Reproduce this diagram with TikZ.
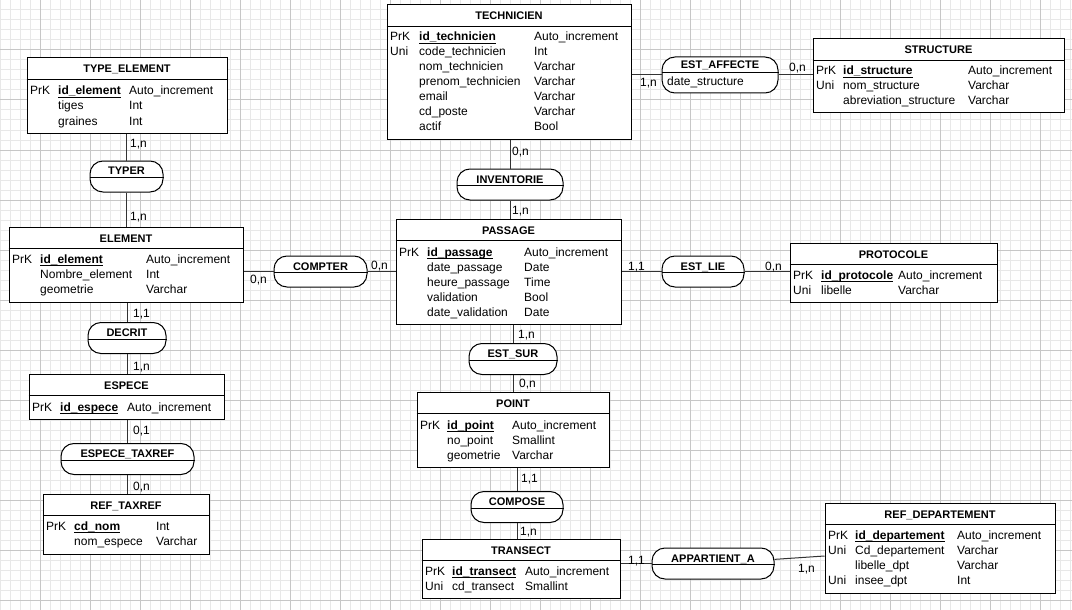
\documentclass[tikz,border=0pt]{standalone}
\usepackage{fontspec}
\setmainfont{Liberation Sans}

\begin{document}
\begin{tikzpicture}[x=1pt, y=-1pt,
    entity/.style={draw, fill=white, line width=1pt, inner sep=0pt},
    rel/.style={draw, fill=white, line width=1pt, rounded corners=13pt, minimum height=31pt, inner sep=0pt},
    ttl/.style={font=\fontsize{11}{13}\selectfont\bfseries, inner sep=0pt, text height=9pt, text depth=1pt},
    att/.style={font=\fontsize{12}{15}\selectfont, anchor=west, inner sep=0pt, text height=9pt, text depth=1pt},
    key/.style={att, font=\fontsize{12}{15}\selectfont\bfseries},
    uline/.style={line width=1pt},
    sep/.style={line width=1pt},
    link/.style={draw=black!80, line width=1pt},
    minor/.style={draw=black!9, line width=1pt},
    major/.style={draw=black!22, line width=1pt}]

  % Background grid
  \fill[white] (0,0) rectangle (1072,610);
  \useasboundingbox (0,0) rectangle (1072,610);
  \foreach \x in {0,10,...,1070} \draw[minor] (\x,0) -- (\x,610);
  \foreach \y in {0,10,...,610} \draw[minor] (0,\y) -- (1072,\y);
  \foreach \x in {40,90,...,1040} \draw[major] (\x,0) -- (\x,610);
  \foreach \y in {0,50,...,600} \draw[major] (0,\y) -- (1072,\y);

  % TECHNICIEN
  \node[entity, minimum width=244pt, minimum height=134pt] (technicien) at (509,72) {};
  \draw[sep] ([yshift=-22pt]technicien.north west) -- ([yshift=-22pt]technicien.north east);
  \node[ttl] (technicien-t) at (509,16) {TECHNICIEN};
  \node[att] (tec-k) at (390,37) {PrK};
  \node[key] (tec-id) at (419,37) {id\_technicien};
  \node[att] (tec-ty) at (534,37) {Auto\_increment};
  \draw[uline] ([yshift=-1.5pt]tec-id.south west) -- ([yshift=-1.5pt]tec-id.south east);
  \foreach \k/\n/\t [count=\i] in {Uni/code\_technicien/Int, /nom\_technicien/Varchar,
      /prenom\_technicien/Varchar, /email/Varchar, /cd\_poste/Varchar, /actif/Bool} {
    \node[att] (tec-k\i) at (390,{37+15*\i}) {\k};
    \node[att] (tec-n\i) at (419,{37+15*\i}) {\n};
    \node[att] (tec-t\i) at (534,{37+15*\i}) {\t};
  }

  % STRUCTURE
  \node[entity, minimum width=251pt, minimum height=74pt] (structure) at (938.5,76) {};
  \draw[sep] ([yshift=-22pt]structure.north west) -- ([yshift=-22pt]structure.north east);
  \node[ttl] (structure-t) at (938.5,50) {STRUCTURE};
  \node[att] (str-k) at (816,71) {PrK};
  \node[key] (str-id) at (843,71) {id\_structure};
  \node[att] (str-ty) at (968,71) {Auto\_increment};
  \draw[uline] ([yshift=-1.5pt]str-id.south west) -- ([yshift=-1.5pt]str-id.south east);
  \foreach \k/\n/\t [count=\i] in {Uni/nom\_structure/Varchar, /abreviation\_structure/Varchar} {
    \node[att] (str-k\i) at (816,{71+15*\i}) {\k};
    \node[att] (str-n\i) at (843,{71+15*\i}) {\n};
    \node[att] (str-t\i) at (968,{71+15*\i}) {\t};
  }

  % TYPE_ELEMENT
  \node[entity, minimum width=200pt, minimum height=75pt] (typeelement) at (127,95.5) {};
  \draw[sep] ([yshift=-22pt]typeelement.north west) -- ([yshift=-22pt]typeelement.north east);
  \node[ttl] (typeelement-t) at (127,69) {TYPE\_ELEMENT};
  \node[att] (typ-k) at (30,91) {PrK};
  \node[key] (typ-id) at (58,91) {id\_element};
  \node[att] (typ-ty) at (129,91) {Auto\_increment};
  \draw[uline] ([yshift=-1.5pt]typ-id.south west) -- ([yshift=-1.5pt]typ-id.south east);
  \foreach \n/\t [count=\i] in {tiges/Int, graines/Int} {
    \node[att] (typ-n\i) at (58,{91+15*\i}) {\n};
    \node[att] (typ-t\i) at (129,{91+15*\i}) {\t};
  }

  % ELEMENT
  \node[entity, minimum width=234pt, minimum height=75pt] (element) at (126,264.5) {};
  \draw[sep] ([yshift=-22pt]element.north west) -- ([yshift=-22pt]element.north east);
  \node[ttl] (element-t) at (126,238) {ELEMENT};
  \node[att] (ele-k) at (12,259) {PrK};
  \node[key] (ele-id) at (40,259) {id\_element};
  \node[att] (ele-ty) at (146,259) {Auto\_increment};
  \draw[uline] ([yshift=-1.5pt]ele-id.south west) -- ([yshift=-1.5pt]ele-id.south east);
  \foreach \n/\t [count=\i] in {Nombre\_element/Int, geometrie/Varchar} {
    \node[att] (ele-n\i) at (40,{259+15*\i}) {\n};
    \node[att] (ele-t\i) at (146,{259+15*\i}) {\t};
  }

  % PASSAGE
  \node[entity, minimum width=225pt, minimum height=105pt] (passage) at (508.5,271.5) {};
  \draw[sep] ([yshift=-22pt]passage.north west) -- ([yshift=-22pt]passage.north east);
  \node[ttl] (passage-t) at (508.5,230) {PASSAGE};
  \node[att] (pas-k) at (399,252) {PrK};
  \node[key] (pas-id) at (427,252) {id\_passage};
  \node[att] (pas-ty) at (524,252) {Auto\_increment};
  \draw[uline] ([yshift=-1.5pt]pas-id.south west) -- ([yshift=-1.5pt]pas-id.south east);
  \foreach \n/\t [count=\i] in {date\_passage/Date, heure\_passage/Time, validation/Bool,
      date\_validation/Date} {
    \node[att] (pas-n\i) at (427,{252+15*\i}) {\n};
    \node[att] (pas-t\i) at (524,{252+15*\i}) {\t};
  }

  % PROTOCOLE
  \node[entity, minimum width=207pt, minimum height=59pt] (protocole) at (893.5,272.5) {};
  \draw[sep] ([yshift=-22pt]protocole.north west) -- ([yshift=-22pt]protocole.north east);
  \node[ttl] (protocole-t) at (893.5,254) {PROTOCOLE};
  \node[att] (pro-k) at (793,275) {PrK};
  \node[key] (pro-id) at (821,275) {id\_protocole};
  \node[att] (pro-ty) at (898,275) {Auto\_increment};
  \draw[uline] ([yshift=-1.5pt]pro-id.south west) -- ([yshift=-1.5pt]pro-id.south east);
  \node[att] (pro-k1) at (793,290) {Uni};
  \node[att] (pro-n1) at (821,290) {libelle};
  \node[att] (pro-t1) at (898,290) {Varchar};

  % ESPECE
  \node[entity, minimum width=195pt, minimum height=45pt] (espece) at (126.5,396.5) {};
  \draw[sep] ([yshift=-22pt]espece.north west) -- ([yshift=-22pt]espece.north east);
  \node[ttl] (espece-t) at (126.5,385) {ESPECE};
  \node[att] (esp-k) at (32,407) {PrK};
  \node[key] (esp-id) at (60,407) {id\_espece};
  \node[att] (esp-ty) at (127,407) {Auto\_increment};
  \draw[uline] ([yshift=-1.5pt]esp-id.south west) -- ([yshift=-1.5pt]esp-id.south east);

  % REF_TAXREF
  \node[entity, minimum width=166pt, minimum height=60pt] (reftaxref) at (126,524) {};
  \draw[sep] ([yshift=-22pt]reftaxref.north west) -- ([yshift=-22pt]reftaxref.north east);
  \node[ttl] (reftaxref-t) at (126,505) {REF\_TAXREF};
  \node[att] (ref-k) at (46,526) {PrK};
  \node[key] (ref-id) at (74,526) {cd\_nom};
  \node[att] (ref-ty) at (156,526) {Int};
  \draw[uline] ([yshift=-1.5pt]ref-id.south west) -- ([yshift=-1.5pt]ref-id.south east);
  \node[att] (ref-n1) at (74,541) {nom\_espece};
  \node[att] (ref-t1) at (156,541) {Varchar};

  % POINT
  \node[entity, minimum width=192pt, minimum height=75pt] (point) at (513,429.5) {};
  \draw[sep] ([yshift=-22pt]point.north west) -- ([yshift=-22pt]point.north east);
  \node[ttl] (point-t) at (513,403) {POINT};
  \node[att] (poi-k) at (420,425) {PrK};
  \node[key] (poi-id) at (447,425) {id\_point};
  \node[att] (poi-ty) at (512,425) {Auto\_increment};
  \draw[uline] ([yshift=-1.5pt]poi-id.south west) -- ([yshift=-1.5pt]poi-id.south east);
  \foreach \n/\t [count=\i] in {no\_point/Smallint, geometrie/Varchar} {
    \node[att] (poi-n\i) at (447,{425+15*\i}) {\n};
    \node[att] (poi-t\i) at (512,{425+15*\i}) {\t};
  }

  % TRANSECT
  \node[entity, minimum width=198pt, minimum height=59pt] (transect) at (521,568.5) {};
  \draw[sep] ([yshift=-22pt]transect.north west) -- ([yshift=-22pt]transect.north east);
  \node[ttl] (transect-t) at (521,550) {TRANSECT};
  \node[att] (tra-k) at (425,571) {PrK};
  \node[key] (tra-id) at (452,571) {id\_transect};
  \node[att] (tra-ty) at (525,571) {Auto\_increment};
  \draw[uline] ([yshift=-1.5pt]tra-id.south west) -- ([yshift=-1.5pt]tra-id.south east);
  \node[att] (tra-k1) at (425,586) {Uni};
  \node[att] (tra-n1) at (452,586) {cd\_transect};
  \node[att] (tra-t1) at (525,586) {Smallint};

  % REF_DEPARTEMENT
  \node[entity, minimum width=230pt, minimum height=90pt] (refdep) at (940,548) {};
  \draw[sep] ([yshift=-22pt]refdep.north west) -- ([yshift=-22pt]refdep.north east);
  \node[ttl] (refdep-t) at (940,514) {REF\_DEPARTEMENT};
  \node[att] (dep-k) at (828,535) {PrK};
  \node[key] (dep-id) at (855,535) {id\_departement};
  \node[att] (dep-ty) at (957,535) {Auto\_increment};
  \draw[uline] ([yshift=-1.5pt]dep-id.south west) -- ([yshift=-1.5pt]dep-id.south east);
  \foreach \k/\n/\t [count=\i] in {Uni/Cd\_departement/Varchar, /libelle\_dpt/Varchar,
      Uni/insee\_dpt/Int} {
    \node[att] (dep-k\i) at (828,{535+15*\i}) {\k};
    \node[att] (dep-n\i) at (855,{535+15*\i}) {\n};
    \node[att] (dep-t\i) at (957,{535+15*\i}) {\t};
  }

  % Associations
  \node[rel, minimum width=116pt, minimum height=36pt] (estaffecte) at (720,75) {};
  \node[rel, minimum width=73pt] (typer) at (126.5,176.5) {};
  \node[rel, minimum width=106pt] (inventorie) at (510,184.5) {};
  \node[rel, minimum width=93pt] (compter) at (320.5,271.5) {};
  \node[rel, minimum width=82pt] (estlie) at (703,271.5) {};
  \node[rel, minimum width=78pt] (decrit) at (127,338) {};
  \node[rel, minimum width=88pt] (estsur) at (513,359) {};
  \node[rel, minimum width=133pt] (especetaxref) at (127.5,459) {};
  \node[rel, minimum width=92pt] (compose) at (517,507) {};
  \node[rel, minimum width=122pt] (appartient) at (713,563.5) {};

  \draw[sep] ([yshift=2pt]estaffecte.west) -- ([yshift=2pt]estaffecte.east);
  \node[ttl] (estaffecte-t) at ([yshift=10pt]estaffecte.center) {EST\_AFFECTE};
  \node[att] (estaffecte-a) at (667,82) {date\_structure};

  \foreach \r/\txt in {typer/TYPER, inventorie/INVENTORIE, compter/COMPTER, estlie/EST\_LIE,
      decrit/DECRIT, estsur/EST\_SUR, especetaxref/ESPECE\_TAXREF, compose/COMPOSE,
      appartient/APPARTIENT\_A} {
    \draw[sep] ([yshift=-1pt]\r.west) -- ([yshift=-1pt]\r.east);
    \node[ttl] (\r-t) at ([yshift=5.5pt]\r.center) {\txt};
  }

  % Links
  \draw[link] (technicien.east |- estaffecte) -- (estaffecte);
  \draw[link] (estaffecte) -- (estaffecte -| structure.west);
  \draw[link] (typer) -- (typer |- typeelement.south);
  \draw[link] (typer) -- (typer |- element.north);
  \draw[link] (inventorie) -- (inventorie |- technicien.south);
  \draw[link] (inventorie) -- (inventorie |- passage.north);
  \draw[link] (compter) -- (compter -| element.east);
  \draw[link] (compter) -- (compter -| passage.west);
  \draw[link] (estlie) -- (estlie -| passage.east);
  \draw[link] (estlie) -- (estlie -| protocole.west);
  \draw[link] (decrit) -- (decrit |- element.south);
  \draw[link] (decrit) -- (decrit |- espece.north);
  \draw[link] (especetaxref) -- (especetaxref |- espece.south);
  \draw[link] (especetaxref) -- (especetaxref |- reftaxref.north);
  \draw[link] (estsur) -- (estsur |- passage.south);
  \draw[link] (estsur) -- (estsur |- point.north);
  \draw[link] (compose) -- (compose |- point.south);
  \draw[link] (compose) -- (compose |- transect.north);
  \draw[link] (appartient) -- (appartient -| transect.east);
  \coordinate (d) at ([yshift=-8pt]refdep.west);
  \draw[link] (appartient) -- (d);

  % Cardinalities
  \node[att] (c1) at (640,83) {1,n};
  \node[att] (c2) at (789,68) {0,n};
  \node[att] (c3) at (130,143) {1,n};
  \node[att] (c4) at (130,216) {1,n};
  \node[att] (c5) at (512,151) {0,n};
  \node[att] (c6) at (512,210) {1,n};
  \node[att] (c7) at (250,279) {0,n};
  \node[att] (c8) at (371,265) {0,n};
  \node[att] (c9) at (628,266) {1,1};
  \node[att] (c10) at (765,266) {0,n};
  \node[att] (c11) at (133,313) {1,1};
  \node[att] (c12) at (133,366) {1,n};
  \node[att] (c13) at (133,430) {0,1};
  \node[att] (c14) at (133,486) {0,n};
  \node[att] (c15) at (518,334) {1,n};
  \node[att] (c16) at (519,383) {0,n};
  \node[att] (c17) at (521,478) {1,1};
  \node[att] (c18) at (520,531) {1,n};
  \node[att] (c19) at (628,560) {1,1};
  \node[att] (c20) at (798,568) {1,n};
\end{tikzpicture}
\end{document}
